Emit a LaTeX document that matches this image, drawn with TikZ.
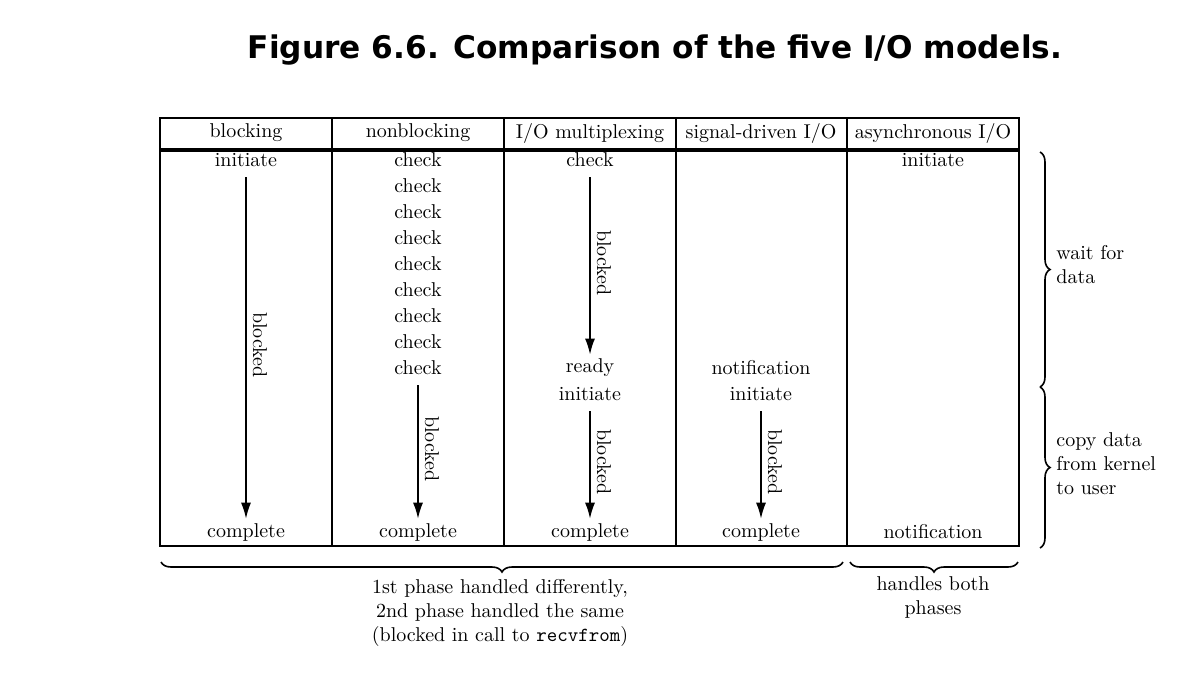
\documentclass[tikz,border=0pt]{standalone}
\usepackage{fontspec}
\newfontfamily\titlefont{DejaVu Sans}
\usetikzlibrary{arrows.meta,decorations.pathreplacing}

\begin{document}
\begin{tikzpicture}[x=0.5pt, y=-0.5pt,
  txt/.style={font=\normalsize, inner sep=1pt},
  arr/.style={-{Latex[length=8pt,width=5pt]}, line width=0.8pt,
              shorten <=4pt, shorten >=1pt},
  blk/.style={rotate=-90, anchor=south, font=\normalsize, inner sep=3pt},
  brc/.style={decorate, decoration={brace, amplitude=5pt}, line width=0.8pt},
  note/.style={font=\normalsize, align=left, anchor=west, inner sep=0pt}
]
  \useasboundingbox (0,0) rectangle (1184,676);

  % Titre
  \node[font=\titlefont\bfseries\fontsize{15.6}{18}\selectfont] (title) at (655,50)
    {Figure 6.6. Comparison of the five I/O models.};

  % Tableau
  \draw[line width=1pt] (160,118) rectangle (1019,546);
  \draw[line width=2pt] (160,150) -- (1019,150);
  \foreach \x in {332,504,676,847}
    \draw[line width=0.8pt] (\x,118) -- (\x,546);

  % En-tetes
  \node[txt] (h1) at (246,133) {blocking};
  \node[txt] (h2) at (418,133) {nonblocking};
  \node[txt] (h3) at (590,133) {I/O multiplexing};
  \node[txt] (h4) at (761,133) {signal-driven I/O};
  \node[txt] (h5) at (933,133) {asynchronous I/O};

  % blocking
  \node[txt] (b1) at (246,160) {initiate};
  \node[txt] (b2) at (246,532) {complete};
  \draw[arr] (b1) -- (b2) node[blk, midway] {blocked};

  % nonblocking
  \foreach \i in {1,...,9} {
    \node[txt] (c\i) at (418,{160+26*(\i-1)}) {check};
  }
  \node[txt] (c10) at (418,532) {complete};
  \draw[arr] (c9) -- (c10) node[blk, midway] {blocked};

  % I/O multiplexing
  \node[txt] (m1) at (590,160) {check};
  \node[txt] (m2) at (590,368) {ready};
  \node[txt] (m3) at (590,394) {initiate};
  \node[txt] (m4) at (590,532) {complete};
  \draw[arr] (m1) -- (m2) node[blk, midway] {blocked};
  \draw[arr] (m3) -- (m4) node[blk, midway] {blocked};

  % signal-driven I/O
  \node[txt] (s1) at (761,368) {notification};
  \node[txt] (s2) at (761,394) {initiate};
  \node[txt] (s3) at (761,532) {complete};
  \draw[arr] (s2) -- (s3) node[blk, midway] {blocked};

  % asynchronous I/O
  \node[txt] (a1) at (933,160) {initiate};
  \node[txt] (a2) at (933,532) {notification};

  % Accolades a droite
  \coordinate (w1) at (1040,152);
  \coordinate (w2) at (1040,387);
  \coordinate (w3) at (1040,548);
  \draw[brc] (w1) -- (w2);
  \draw[brc] (w2) -- (w3);
  \node[note] (n1) at (1056,265) {wait for\\data};
  \node[note] (n2) at (1056,464) {copy data\\from kernel\\to user};

  % Accolades en bas
  \coordinate (p1) at (161,562);
  \coordinate (p2) at (843,562);
  \coordinate (p3) at (850,562);
  \coordinate (p4) at (1018,562);
  \draw[brc] (p2) -- (p1);
  \draw[brc] (p4) -- (p3);
  \node[txt, align=center] (n3) at (500,613)
    {1st phase handled differently,\\2nd phase handled the same\\(blocked in call to \texttt{recvfrom})};
  \node[txt, align=center] (n4) at (933,597) {handles both\\phases};
\end{tikzpicture}
\end{document}
